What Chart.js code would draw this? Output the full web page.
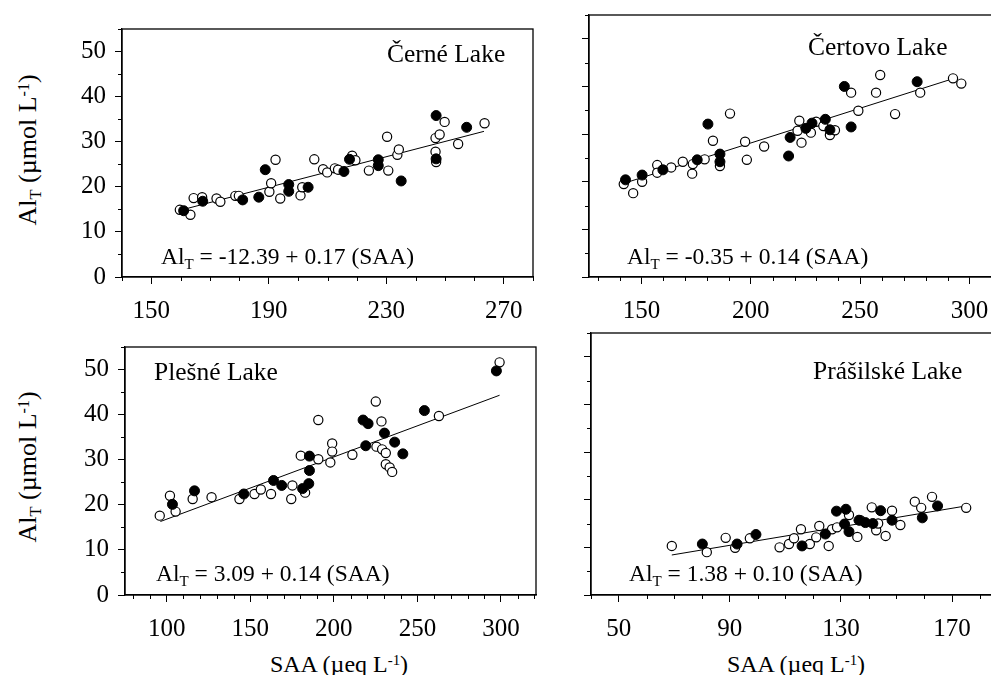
<!DOCTYPE html>
<html>
<head>
<meta charset="utf-8">
<script src="https://cdn.jsdelivr.net/npm/chart.js@4/dist/chart.umd.min.js"></script>
<style>
html,body{margin:0;padding:0;background:#fff;width:991px;height:675px;overflow:hidden;position:relative;}
.panel{position:absolute;}
.t{position:absolute;font-family:"Liberation Serif","Times New Roman",serif;color:#000;white-space:nowrap;line-height:1;}
.sub{font-size:0.64em;vertical-align:-0.33em;}
.sup{font-size:0.62em;vertical-align:0.45em;}
.ytitle{font-size:26px;transform:translate(-50%,-50%) rotate(-90deg);}
</style>
</head>
<body>
<div class="panel" id="p1" style="left:62px;top:5px;width:476px;height:322px;"><canvas id="c1"></canvas></div>
<div class="panel" id="p2" style="left:529px;top:5px;width:476px;height:322px;"><canvas id="c2"></canvas></div>
<div class="panel" id="p3" style="left:65px;top:323px;width:476px;height:322px;"><canvas id="c3"></canvas></div>
<div class="panel" id="p4" style="left:531px;top:323px;width:476px;height:322px;"><canvas id="c4"></canvas></div>

<div class="t ytitle" style="left:30px;top:150px;">Al<span class="sub">T</span> (µmol L<span class="sup">-1</span>)</div>
<div class="t ytitle" style="left:30px;top:467px;">Al<span class="sub">T</span> (µmol L<span class="sup">-1</span>)</div>

<div class="t" style="left:387px;top:41px;font-size:25.5px;">Černé Lake</div>
<div class="t" style="left:808px;top:34px;font-size:25.5px;">Čertovo Lake</div>
<div class="t" style="left:154px;top:359px;font-size:25.5px;">Plešné Lake</div>
<div class="t" style="left:813px;top:358px;font-size:25.5px;">Prášilské Lake</div>

<div class="t" style="left:161px;top:245px;font-size:23.5px;">Al<span class="sub">T</span> = -12.39 + 0.17 (SAA)</div>
<div class="t" style="left:627px;top:245px;font-size:23.5px;">Al<span class="sub">T</span> = -0.35 + 0.14 (SAA)</div>
<div class="t" style="left:156px;top:562px;font-size:23.5px;">Al<span class="sub">T</span> = 3.09 + 0.14 (SAA)</div>
<div class="t" style="left:629px;top:562px;font-size:23.5px;">Al<span class="sub">T</span> = 1.38 + 0.10 (SAA)</div>

<div class="t" style="left:339px;top:652px;font-size:24px;transform:translateX(-50%);">SAA (µeq L<span class="sup">-1</span>)</div>
<div class="t" style="left:796px;top:652px;font-size:24px;transform:translateX(-50%);">SAA (µeq L<span class="sup">-1</span>)</div>

<script>
// ---------- data (SAA, Al_T) ----------
const cerneOpen = [[159.7,14.9],[163.3,13.8],[164.4,17.5],[167.3,17.7],[172.2,17.4],[173.5,16.7],[178.6,18.0],[179.8,18.0],[190.2,18.9],[190.8,20.8],[192.3,26.0],[193.9,17.4],[200.8,18.1],[201.4,19.9],[205.5,26.1],[208.5,23.9],[209.9,23.2],[212.5,24.1],[213.6,23.8],[218.4,26.9],[219.5,25.9],[224.1,23.6],[230.3,31.1],[230.7,23.6],[233.8,27.1],[234.3,28.3],[246.8,30.8],[246.8,27.8],[247.0,25.5],[248.2,31.6],[249.9,34.4],[254.5,29.5],[263.5,34.1]];
const cerneFilled = [[161.0,14.7],[167.5,16.8],[181.1,17.1],[186.6,17.7],[188.8,23.8],[196.8,20.5],[196.8,19.0],[203.4,19.9],[215.6,23.4],[217.5,26.1],[227.3,26.0],[227.3,24.7],[235.1,21.3],[247.0,35.8],[247.0,26.2],[257.4,33.2]];
const cerneFit = [[161.0,15.0],[263.3,32.3]];

const certovoOpen = [[141.9,19.5],[146.2,17.6],[150.3,20.0],[157.2,23.5],[157.2,21.9],[163.6,23.0],[168.9,24.2],[173.2,21.7],[173.5,23.7],[178.9,24.7],[182.7,28.6],[185.9,23.3],[190.5,34.3],[197.4,28.4],[198.2,24.6],[206.1,27.4],[221.4,30.7],[222.2,32.8],[223.2,28.2],[227.5,30.3],[229.9,32.6],[233.2,31.7],[236.2,29.8],[238.5,30.8],[245.9,38.7],[249.2,34.9],[257.3,38.7],[259.2,42.4],[266.0,34.2],[277.5,38.7],[292.5,41.7],[296.3,40.6]];
const certovoFilled = [[142.7,20.4],[150.3,21.4],[159.8,22.5],[175.5,24.6],[180.4,32.1],[185.9,25.8],[185.9,24.2],[217.3,25.4],[218.0,29.3],[225.2,31.2],[228.0,32.3],[234.1,33.1],[236.2,30.9],[242.8,40.0],[245.9,31.5],[276.1,41.0]];
const certovoFit = [[142.2,19.7],[293.0,41.7]];

const plesneOpen = [[95.8,17.6],[101.9,22.0],[105.3,18.5],[115.5,21.3],[126.8,21.7],[143.5,21.3],[152.5,22.4],[156.3,23.4],[162.4,22.4],[174.5,21.3],[175.2,24.3],[180.2,30.9],[182.8,22.7],[190.7,38.8],[190.7,30.1],[197.9,29.4],[199.0,33.6],[199.0,31.8],[211.1,31.1],[225.1,42.9],[225.5,32.9],[228.5,38.5],[228.9,32.3],[231.1,31.5],[231.1,29.0],[233.4,28.3],[234.9,27.3],[262.9,39.7],[299.2,51.6]];
const plesneFilled = [[103.4,20.1],[116.6,23.1],[146.1,22.4],[163.9,25.4],[168.8,24.3],[181.3,23.6],[185.0,24.7],[185.4,30.8],[185.4,27.6],[217.5,38.8],[219.1,33.1],[220.5,38.0],[230.3,35.9],[236.4,33.9],[241.3,31.3],[254.2,40.9],[297.3,49.7]];
const plesneFit = [[96.2,16.3],[299.2,44.3]];

const prasilskeOpen = [[69.1,10.3],[81.7,9.0],[88.5,12.0],[91.9,9.9],[97.2,11.9],[107.9,10.0],[111.3,10.7],[113.1,11.9],[115.6,13.8],[118.8,10.7],[121.1,12.1],[122.2,14.5],[125.6,10.3],[126.8,13.8],[128.6,14.2],[132.9,16.8],[135.9,12.2],[137.0,15.7],[141.1,18.4],[142.7,13.6],[143.4,15.0],[146.1,12.4],[148.4,17.7],[151.4,14.7],[156.6,19.6],[158.9,18.3],[162.8,20.6],[175.1,18.3]];
const prasilskeFilled = [[80.1,10.7],[92.6,10.7],[99.4,12.7],[116.0,10.3],[124.4,12.8],[128.4,17.6],[131.8,18.0],[131.3,14.9],[132.9,13.3],[136.5,15.7],[138.8,15.2],[141.5,15.0],[144.3,17.7],[148.4,15.7],[159.3,16.2],[164.8,18.7]];
const prasilskeFit = [[69.1,8.4],[175.1,18.7]];

// ---------- tick labels ----------
const yTicks = [0,10,20,30,40,50];
const cerneTicks = [150,190,230,270];
const certovoTicks = [150,200,250,300];
const plesneTicks = [100,150,200,250,300];
const prasilskeTicks = [50,90,130,170];

// ---------- chart building ----------
const FONT = "'Liberation Serif','Times New Roman',serif";
const toXY = arr => arr.map(p => ({x: p[0], y: p[1]}));

const framePlugin = {
  id: 'frame',
  afterDraw(chart, args, o) {
    const {ctx, chartArea: a, scales} = chart;
    ctx.save();
    ctx.strokeStyle = '#000';
    ctx.lineWidth = 1.3;
    ctx.strokeRect(a.left, a.top, a.right - a.left, a.bottom - a.top);
    ctx.lineWidth = 1;
    const xs = scales.x, ys = scales.y;
    for (let v = Math.ceil(xs.min / o.xStep) * o.xStep; v <= xs.max; v += o.xStep) {
      if (o.xMajor.includes(v)) continue;
      const px = Math.round(xs.getPixelForValue(v)) + 0.5;
      ctx.beginPath(); ctx.moveTo(px, a.bottom); ctx.lineTo(px, a.bottom + 4); ctx.stroke();
    }
    for (let v = Math.ceil(ys.min / o.yStep) * o.yStep; v <= ys.max; v += o.yStep) {
      if (o.yMajor.includes(v)) continue;
      const py = Math.round(ys.getPixelForValue(v)) + 0.5;
      ctx.beginPath(); ctx.moveTo(a.left, py); ctx.lineTo(a.left - 4, py); ctx.stroke();
    }
    ctx.restore();
  }
};

function makeChart(id, open, filled, fit, xMin, xMax, xTicks, showY) {
  new Chart(document.getElementById(id), {
    type: 'scatter',
    data: {
      datasets: [
        {data: toXY(filled), backgroundColor: '#000', borderColor: '#000', borderWidth: 1, pointRadius: 5, order: 1},
        {data: toXY(open), backgroundColor: '#fff', borderColor: '#000', borderWidth: 1.2, pointRadius: 4.6, order: 2},
        {data: toXY(fit), showLine: true, borderColor: '#000', borderWidth: 1, pointRadius: 0, fill: false, order: 3}
      ]
    },
    options: {
      responsive: true,
      maintainAspectRatio: false,
      animation: false,
      events: [],
      layout: {autoPadding: false, padding: {top: 10, right: 5, left: 0, bottom: 0}},
      plugins: {
        legend: {display: false},
        tooltip: {enabled: false},
        frame: {xMajor: xTicks, xStep: 10, yMajor: yTicks, yStep: 5}
      },
      scales: {
        x: {
          type: 'linear', min: xMin, max: xMax,
          afterBuildTicks: s => { s.ticks = xTicks.map(v => ({value: v})); },
          afterFit: s => { s.height = 50; },
          ticks: {autoSkip: false, maxRotation: 0, padding: 12, color: '#000', font: {family: FONT, size: 25}},
          grid: {display: true, drawOnChartArea: false, drawTicks: true, tickLength: 7, color: '#000', tickColor: '#000', lineWidth: 1},
          border: {display: true, color: '#000', width: 1.3}
        },
        y: {
          type: 'linear', min: 0, max: 55,
          afterBuildTicks: s => { s.ticks = yTicks.map(v => ({value: v})); },
          afterFit: s => { s.width = 60; },
          ticks: {display: showY, autoSkip: false, padding: 9, color: '#000', font: {family: FONT, size: 25}},
          grid: {display: true, drawOnChartArea: false, drawTicks: true, tickLength: 7, color: '#000', tickColor: '#000', lineWidth: 1},
          border: {display: true, color: '#000', width: 1.3}
        }
      }
    },
    plugins: [framePlugin]
  });
}

makeChart('c1', cerneOpen, cerneFilled, cerneFit, 140, 280, cerneTicks, true);
makeChart('c2', certovoOpen, certovoFilled, certovoFit, 126, 314, certovoTicks, false);
makeChart('c3', plesneOpen, plesneFilled, plesneFit, 75, 321, plesneTicks, true);
makeChart('c4', prasilskeOpen, prasilskeFilled, prasilskeFit, 40, 188, prasilskeTicks, false);
</script>
</body>
</html>
